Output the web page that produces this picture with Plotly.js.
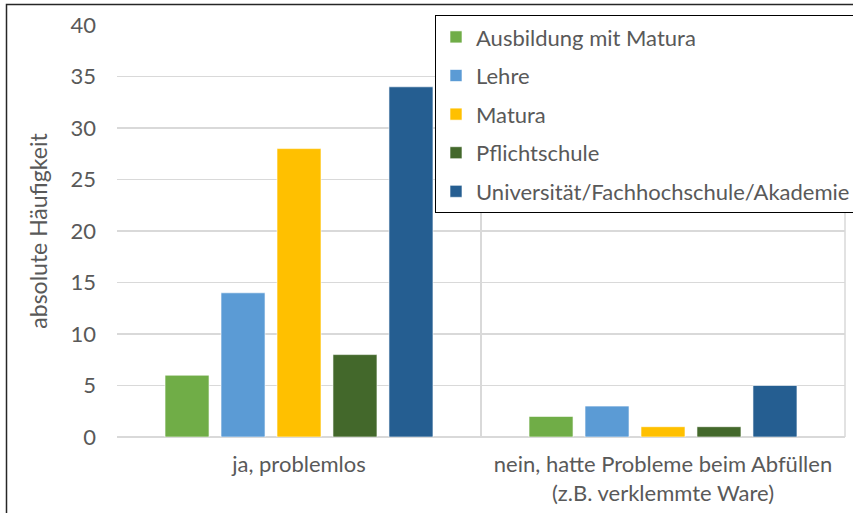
<!DOCTYPE html>
<html><head><meta charset="utf-8">
<script src="https://cdn.plot.ly/plotly-3.0.1.min.js"></script>
<style>html,body{margin:0;padding:0;background:#fff}#c{width:853px;height:513px}</style>
</head><body><div id="c"></div>
<script>
const categories = ["ja, problemlos", "nein, hatte Probleme beim Abfüllen<br>(z.B. verklemmte Ware)"];
const seriesNames = ["Ausbildung mit Matura", "Lehre", "Matura", "Pflichtschule", "Universität/Fachhochschule/Akademie"];
const ausbildungMitMatura = [6, 2];
const lehre = [14, 3];
const matura = [28, 1];
const pflichtschule = [8, 1];
const universitaet = [34, 5];
const colors = ["#70AD47", "#5B9BD5", "#FFC000", "#43682B", "#255E91"];
const yTicks = [0, 5, 10, 15, 20, 25, 30, 35, 40];

const values = [ausbildungMitMatura, lehre, matura, pflichtschule, universitaet];
const font = "Lato, 'Open Sans', sans-serif";
const fs = 22;
const traces = seriesNames.map((n, i) => ({
  type: "bar", name: n, x: categories, y: values[i],
  legendgroup: "g" + i,
  marker: {color: colors[i], line: {color: "rgba(255,255,255,0.6)", width: 1}},
  hoverinfo: "skip"
}));

const layout = {
  width: 853, height: 513,
  margin: {l: 117, r: 8, t: 25, b: 76, autoexpand: false},
  paper_bgcolor: "#fff", plot_bgcolor: "#fff",
  font: {family: font, color: "#595959", size: fs},
  barmode: "group", bargap: 0.231, bargroupgap: 0.214,
  showlegend: true,
  legend: {
    x: (435 - 117) / 728, y: 1.024, xanchor: "left", yanchor: "top",
    bgcolor: "#fff", bordercolor: "#000", borderwidth: 1,
    font: {family: font, size: fs, color: "#595959"},
    traceorder: "grouped", tracegroupgap: 7
  },
  xaxis: {
    type: "category", range: [-0.5, 1.5],
    tickson: "boundaries", showgrid: true, gridcolor: "#D9D9D9", gridwidth: 1.5,
    ticks: "", showline: false, zeroline: false, ticklabelstandoff: 12,
    tickfont: {family: font, size: fs, color: "#595959"},
    automargin: false, fixedrange: true
  },
  yaxis: {
    range: [0, 40], tickvals: yTicks, ticktext: yTicks.map(String),
    showgrid: true, gridcolor: "#D9D9D9", gridwidth: 1.5,
    zeroline: true, zerolinecolor: "#D9D9D9", zerolinewidth: 1.5,
    showline: false, ticks: "", ticklabelstandoff: 20,
    tickfont: {family: font, size: fs, color: "#595959"},
    title: {text: "absolute Häufigkeit", font: {family: font, size: 23, color: "#595959"}, standoff: 16},
    automargin: false, fixedrange: true
  },
  shapes: [
    {
      type: "line", xref: "paper", yref: "paper", x0: 1, x1: 1, y0: 0, y1: 1,
      line: {color: "#D9D9D9", width: 1.5}, layer: "below"
    },
    {
      type: "rect", xref: "paper", yref: "paper",
      x0: (6.5 - 117) / 728, x1: (1100 - 117) / 728,
      y0: (437 - 700) / 412, y1: (437 - 4.5) / 412,
      line: {color: "#262626", width: 1.5}, fillcolor: "rgba(0,0,0,0)", layer: "above"
    }
  ]
};
Plotly.newPlot("c", traces, layout, {displayModeBar: false, staticPlot: true});
</script></body></html>
